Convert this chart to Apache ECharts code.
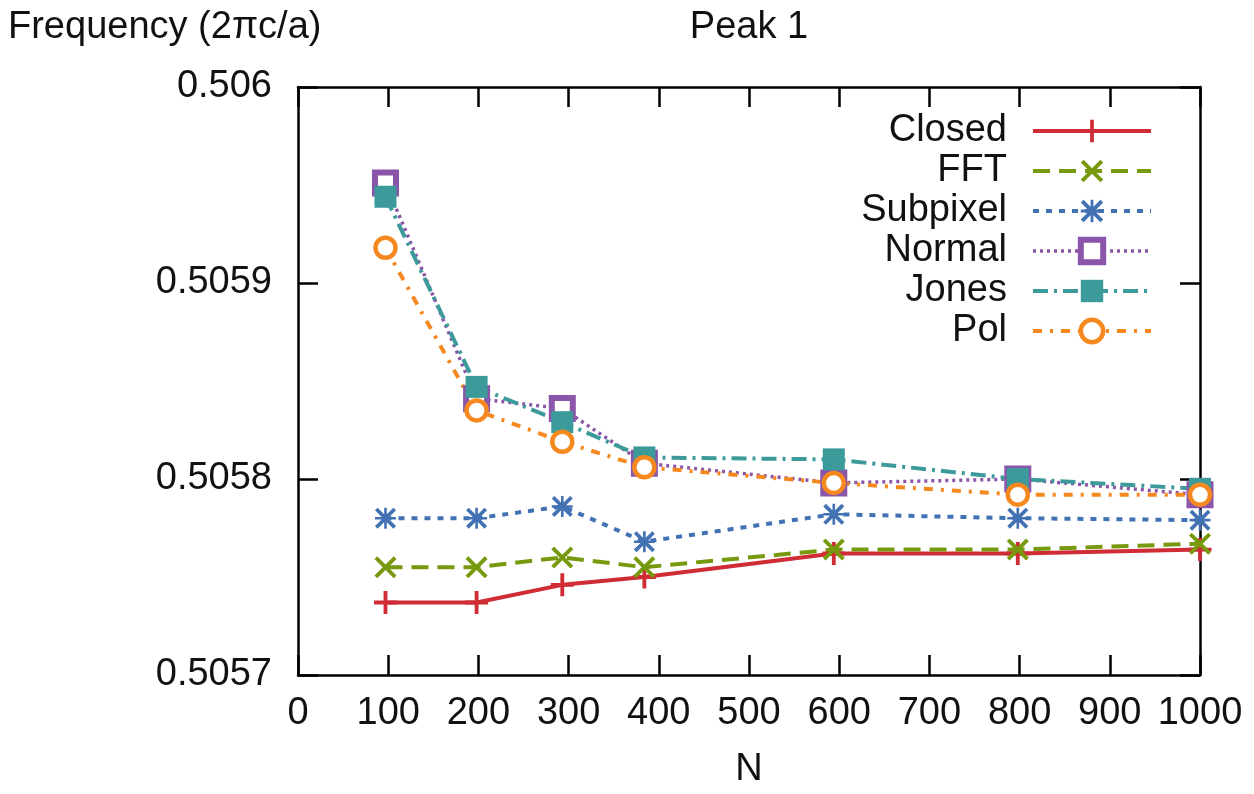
<!DOCTYPE html>
<html>
<head>
<meta charset="utf-8">
<script src="https://cdn.jsdelivr.net/npm/echarts@6/dist/echarts.min.js"></script>
<style>
  html, body { margin: 0; padding: 0; background: #fff; }
  #chart { width: 1254px; height: 794px; }
</style>
</head>
<body>
<div id="chart"></div>
<script>
// Sample sizes N
const nValues = [97, 198, 293, 384, 594, 798, 1000];

// Peak 1 frequency (2πc/a) for each method
const closed   = [0.505737, 0.505737, 0.505746, 0.505750, 0.505762, 0.505762, 0.505764];
const fft      = [0.505755, 0.505755, 0.505760, 0.505755, 0.505764, 0.505764, 0.505767];
const subpixel = [0.505780, 0.505780, 0.505786, 0.505768, 0.505782, 0.505780, 0.505779];
const normal   = [0.505951, 0.505841, 0.505836, 0.505808, 0.505798, 0.505800, 0.505792];
const jones    = [0.505944, 0.505847, 0.505829, 0.505811, 0.505810, 0.505800, 0.505795];
const pol      = [0.505918, 0.505835, 0.505819, 0.505806, 0.505798, 0.505792, 0.505792];

const seriesNames = ['Closed', 'FFT', 'Subpixel', 'Normal', 'Jones', 'Pol'];

// Axis ranges
const xMin = 0, xMax = 1000, xStep = 100;
const yMin = 0.5057, yMax = 0.5060, yStep = 0.0001;

const FONT = 'Liberation Sans';
const FS = 38;

// Marker shapes
const PLUS = 'path://M10 0H14V10H24V14H14V24H10V14H0V10H10Z';
const CROSS = 'path://M3 0L24 21L21 24L0 3Z M21 0L24 3L3 24L0 21Z';
const STAR = 'path://M10.5 0H13.5V10.5H24V13.5H13.5V24H10.5V13.5H0V10.5H10.5Z M3 0L24 21L21 24L0 3Z M21 0L24 3L3 24L0 21Z';

// Per-series look: colour, line width, dash, marker, marker size, marker fill/border
const styles = {
  Closed:   { color: '#cf2c35', width: 4,   dash: 'solid',       symbol: PLUS,     size: 23 },
  FFT:      { color: '#77990d', width: 4,   dash: [17, 9],       symbol: CROSS,    size: 22 },
  Subpixel: { color: '#4272b3', width: 4,   dash: [6, 7],        symbol: STAR,     size: 21 },
  Normal:   { color: '#8b55a9', width: 3.5, dash: [3, 4],        symbol: 'rect',   size: 21, fill: '#ffffff', border: 6 },
  Jones:    { color: '#3d9a9b', width: 4,   dash: [15, 6, 3, 6], symbol: 'rect',   size: 22 },
  Pol:      { color: '#f5891f', width: 4,   dash: [9, 8, 3, 8],  symbol: 'circle', size: 20, fill: '#ffffff', border: 4.5 }
};

const seriesValues = { Closed: closed, FFT: fft, Subpixel: subpixel, Normal: normal, Jones: jones, Pol: pol };

function pairs(vals) {
  return nValues.map((n, i) => [n, vals[i]]);
}

function itemStyleOf(s) {
  return s.fill
    ? { color: s.fill, borderColor: s.color, borderWidth: s.border, opacity: 1 }
    : { color: s.color, borderWidth: 0, opacity: 1 };
}

const series = seriesNames.map(name => {
  const s = styles[name];
  return {
    name: name,
    type: 'line',
    data: pairs(seriesValues[name]),
    color: s.color,
    symbol: s.symbol,
    symbolSize: s.size,
    showAllSymbol: true,
    lineStyle: { color: s.color, width: s.width, type: s.dash },
    itemStyle: itemStyleOf(s),
    emphasis: { disabled: true },
    animation: false
  };
});

const legendData = seriesNames.map(name => {
  const s = styles[name];
  return {
    name: name,
    lineStyle: { color: s.color, width: s.width, type: s.dash },
    itemStyle: itemStyleOf(s)
  };
});

const axisLine = { show: true, onZero: false, lineStyle: { color: '#000', width: 2.5 } };
const axisTick = { show: true, inside: true, length: 20, lineStyle: { color: '#000', width: 2.5 } };

const chart = echarts.init(document.getElementById('chart'), null, { renderer: 'canvas' });

chart.setOption({
  animation: false,
  backgroundColor: '#ffffff',
  textStyle: { fontFamily: FONT },
  title: {
    text: 'Peak 1',
    left: 749,
    textAlign: 'center',
    top: 9,
    padding: 0,
    textStyle: { fontFamily: FONT, fontSize: FS, fontWeight: 'normal', color: '#111' }
  },
  graphic: [{
    type: 'text',
    left: 8,
    top: 9,
    style: { text: 'Frequency (2πc/a)', fontFamily: FONT, fontSize: FS, fill: '#111' }
  }],
  grid: { left: 298, right: 54, top: 87, bottom: 116, containLabel: false },
  legend: {
    data: legendData,
    orient: 'vertical',
    align: 'right',
    right: 96,
    top: 107,
    itemWidth: 118,
    itemHeight: 28,
    itemGap: 2,
    selectedMode: false,
    textStyle: { fontFamily: FONT, fontSize: FS, color: '#111', padding: [0, 21, 0, 0] }
  },
  xAxis: [{
    type: 'value',
    min: xMin, max: xMax, interval: xStep,
    name: 'N',
    nameLocation: 'middle',
    nameGap: 76,
    nameTextStyle: { fontFamily: FONT, fontSize: FS, color: '#111' },
    axisLine: axisLine,
    axisTick: axisTick,
    splitLine: { show: false },
    axisLabel: { margin: 20, fontFamily: FONT, fontSize: FS, color: '#111', formatter: v => String(v) }
  }, {
    type: 'value',
    position: 'top',
    min: xMin, max: xMax, interval: xStep,
    axisLine: axisLine,
    axisTick: axisTick,
    splitLine: { show: false },
    axisLabel: { show: false }
  }],
  yAxis: [{
    type: 'value',
    min: yMin, max: yMax, interval: yStep,
    axisLine: axisLine,
    axisTick: axisTick,
    splitLine: { show: false },
    axisLabel: {
      margin: 26,
      fontFamily: FONT, fontSize: FS, color: '#111',
      formatter: v => String(+v.toFixed(4))
    }
  }, {
    type: 'value',
    position: 'right',
    min: yMin, max: yMax, interval: yStep,
    axisLine: axisLine,
    axisTick: axisTick,
    splitLine: { show: false },
    axisLabel: { show: false }
  }],
  series: series
});
</script>
</body>
</html>
